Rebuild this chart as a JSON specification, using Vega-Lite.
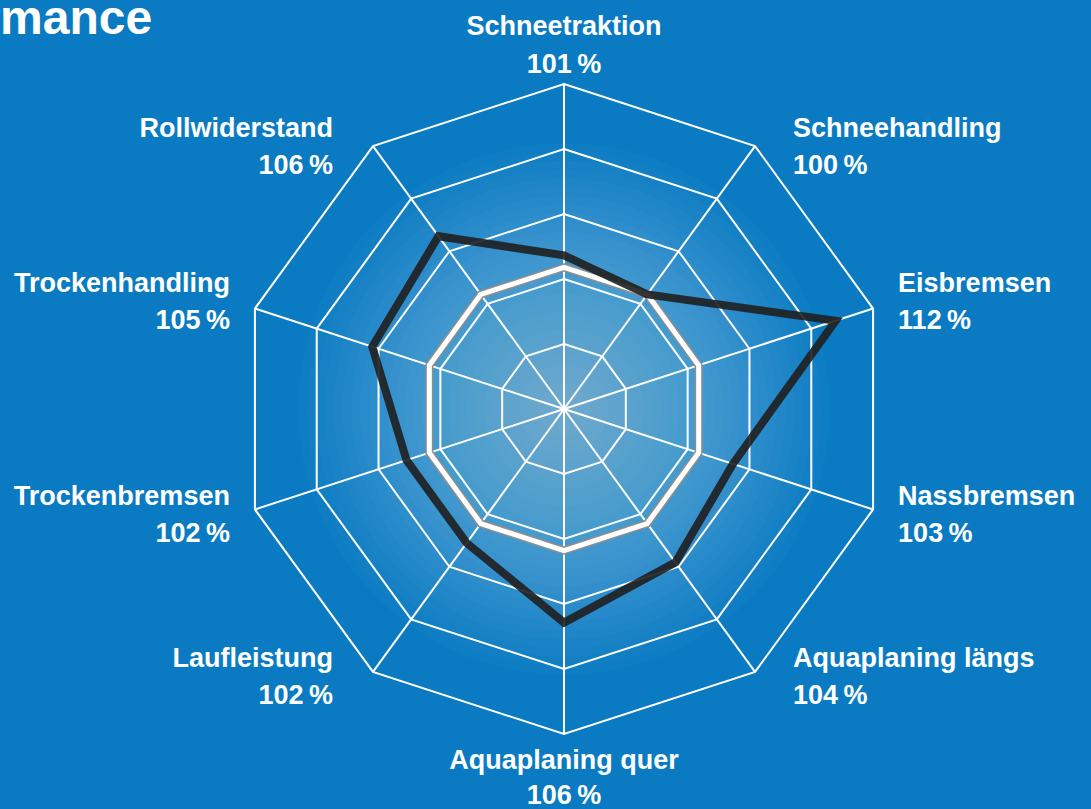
{
  "$schema": "https://vega.github.io/schema/vega-lite/v6.json",
  "width": 1091,
  "height": 809,
  "autosize": {"type": "none"},
  "padding": 0,
  "background": "#0a7bc2",
  "config": {"view": {"stroke": null}},
  "title": {"text": "mance", "anchor": "start", "frame": "group", "orient": "top", "offset": -82, "baseline": "alphabetic", "font": "Liberation Sans", "fontSize": 48, "fontWeight": "bold", "color": "white"},
  "datasets": {
    "axes": [
      {"i": 0, "name": "Schneetraktion", "value": 101},
      {"i": 1, "name": "Schneehandling", "value": 100},
      {"i": 2, "name": "Eisbremsen", "value": 112},
      {"i": 3, "name": "Nassbremsen", "value": 103},
      {"i": 4, "name": "Aquaplaning längs", "value": 104},
      {"i": 5, "name": "Aquaplaning quer", "value": 106},
      {"i": 6, "name": "Laufleistung", "value": 102},
      {"i": 7, "name": "Trockenbremsen", "value": 102},
      {"i": 8, "name": "Trockenhandling", "value": 105},
      {"i": 9, "name": "Rollwiderstand", "value": 106}
    ]
  },
  "data": {"name": "axes"},
  "encoding": {
    "x": {"field": "px", "type": "quantitative", "scale": {"domain": [-564, 527], "nice": false, "zero": false}, "axis": null},
    "y": {"field": "py", "type": "quantitative", "scale": {"domain": [-400, 409], "nice": false, "zero": false}, "axis": null}
  },
  "layer": [
    {
      "transform": [
        {"filter": "datum.i == 0"},
        {"calculate": "[10,20,30,40,50,60,70,80,90,100,110,120,130,140,150,160,170,180,190,200,210,220,230,240,250,260,270,280,290,300]", "as": "hr"},
        {"flatten": ["hr"]},
        {"calculate": "0", "as": "px"},
        {"calculate": "0", "as": "py"}
      ],
      "mark": {"type": "point", "shape": "circle", "filled": true, "color": "white", "opacity": 0.019, "strokeWidth": 0},
      "encoding": {
        "size": {"field": "hr", "type": "quantitative", "scale": {"type": "pow", "exponent": 2, "domain": [0, 300], "range": [0, 282743]}, "legend": null}
      }
    },
    {
      "transform": [
        {"calculate": "[1,2,3,4,5]", "as": "lv"},
        {"flatten": ["lv"]},
        {"calculate": "datum.lv*65*sin(datum.i*PI/5)", "as": "px"},
        {"calculate": "datum.lv*65*cos(datum.i*PI/5)", "as": "py"}
      ],
      "mark": {"type": "line", "interpolate": "linear-closed", "color": "white", "strokeWidth": 2},
      "encoding": {"detail": {"field": "lv", "type": "nominal"}, "order": {"field": "i", "type": "quantitative"}}
    },
    {
      "transform": [
        {"calculate": "325*sin(datum.i*PI/5)", "as": "px"},
        {"calculate": "325*cos(datum.i*PI/5)", "as": "py"}
      ],
      "mark": {"type": "rule", "color": "white", "strokeWidth": 2},
      "encoding": {"x2": {"datum": 0}, "y2": {"datum": 0}}
    },
    {
      "transform": [
        {"calculate": "(100-88.2)*12*sin(datum.i*PI/5)", "as": "px"},
        {"calculate": "(100-88.2)*12*cos(datum.i*PI/5)", "as": "py"}
      ],
      "mark": {"type": "line", "interpolate": "linear-closed", "color": "#8e8e8e", "strokeWidth": 8},
      "encoding": {"order": {"field": "i", "type": "quantitative"}}
    },
    {
      "transform": [
        {"calculate": "(100-88.2)*12*sin(datum.i*PI/5)", "as": "px"},
        {"calculate": "(100-88.2)*12*cos(datum.i*PI/5)", "as": "py"}
      ],
      "mark": {"type": "line", "interpolate": "linear-closed", "color": "#ffffff", "strokeWidth": 5},
      "encoding": {"order": {"field": "i", "type": "quantitative"}}
    },
    {
      "transform": [
        {"calculate": "(datum.value-88.2)*12*sin(datum.i*PI/5)", "as": "px"},
        {"calculate": "(datum.value-88.2)*12*cos(datum.i*PI/5)", "as": "py"}
      ],
      "mark": {"type": "line", "interpolate": "linear-closed", "color": "#1f1f1f", "strokeWidth": 8, "strokeJoin": "miter", "opacity": 0.9},
      "encoding": {"order": {"field": "i", "type": "quantitative"}}
    },
    {
      "transform": [
        {"filter": "datum.i >= 1 && datum.i <= 4"},
        {"calculate": "325*sin(datum.i*PI/5) + (abs(sin(datum.i*PI/5)) > 0.9 ? 25 : 38)", "as": "px"},
        {"calculate": "325*cos(datum.i*PI/5) + (cos(datum.i*PI/5) > 0.5 ? 17 : cos(datum.i*PI/5) > 0 ? 25 : 12.5)", "as": "py"},
        {"calculate": "datum.name + '\\n' + datum.value + '\u2009%'", "as": "lbl"}
      ],
      "mark": {"type": "text", "align": "left", "baseline": "middle", "lineBreak": "\n", "lineHeight": 37, "font": "Liberation Sans", "fontSize": 27, "fontWeight": "bold", "color": "white"},
      "encoding": {"text": {"field": "lbl", "type": "nominal"}}
    },
    {
      "transform": [
        {"filter": "datum.i >= 6"},
        {"calculate": "325*sin(datum.i*PI/5) - (abs(sin(datum.i*PI/5)) > 0.9 ? 25 : 40)", "as": "px"},
        {"calculate": "325*cos(datum.i*PI/5) + (cos(datum.i*PI/5) > 0.5 ? 17 : cos(datum.i*PI/5) > 0 ? 25 : 12.5)", "as": "py"},
        {"calculate": "datum.name + '\\n' + datum.value + '\u2009%'", "as": "lbl"}
      ],
      "mark": {"type": "text", "align": "right", "baseline": "middle", "lineBreak": "\n", "lineHeight": 37, "font": "Liberation Sans", "fontSize": 27, "fontWeight": "bold", "color": "white"},
      "encoding": {"text": {"field": "lbl", "type": "nominal"}}
    },
    {
      "transform": [
        {"filter": "datum.i == 0"},
        {"calculate": "325*sin(datum.i*PI/5)", "as": "px"},
        {"calculate": "325*cos(datum.i*PI/5)", "as": "py"},
        {"calculate": "datum.name + '\\n' + datum.value + '\u2009%'", "as": "lbl"}
      ],
      "mark": {"type": "text", "align": "center", "baseline": "middle", "dy": -57, "lineBreak": "\n", "lineHeight": 38, "font": "Liberation Sans", "fontSize": 27, "fontWeight": "bold", "color": "white"},
      "encoding": {"text": {"field": "lbl", "type": "nominal"}}
    },
    {
      "transform": [
        {"filter": "datum.i == 5"},
        {"calculate": "325*sin(datum.i*PI/5)", "as": "px"},
        {"calculate": "325*cos(datum.i*PI/5)", "as": "py"},
        {"calculate": "datum.name + '\\n' + datum.value + '\u2009%'", "as": "lbl"}
      ],
      "mark": {"type": "text", "align": "center", "baseline": "middle", "dy": 27, "lineBreak": "\n", "lineHeight": 35, "font": "Liberation Sans", "fontSize": 27, "fontWeight": "bold", "color": "white"},
      "encoding": {"text": {"field": "lbl", "type": "nominal"}}
    }
  ]
}
